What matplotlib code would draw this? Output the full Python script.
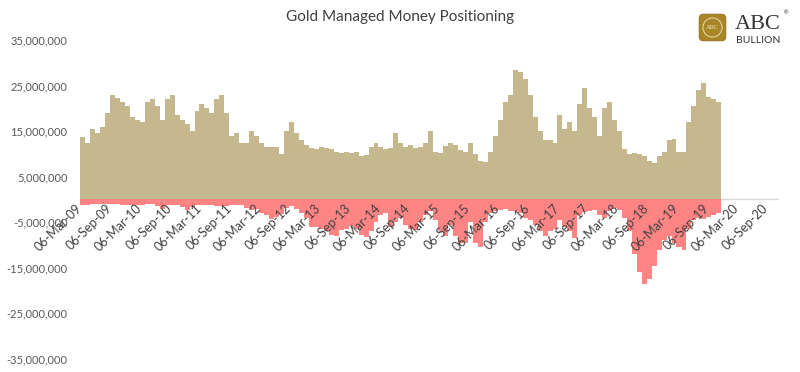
import pandas as pd
import matplotlib
import matplotlib.ticker as ticker
import matplotlib.dates as mdates

matplotlib.use('Agg')
import matplotlib.pyplot as plt
from matplotlib.patches import FancyBboxPatch, Circle

plt.rcParams['font.family'] = ['Lato', 'DejaVu Sans']

# monthly readings in millions
start_date = '2009-03-06'
long_positions = [
    13.7, 12.5, 15.5, 14.5, 16.0, 19.0, 23.0, 22.3, 21.5, 20.5, 18.0, 17.5,
    17.0, 21.5, 22.0, 20.5, 17.5, 22.0, 23.0, 18.5, 17.5, 16.5, 15.0, 19.5,
    21.0, 20.0, 19.0, 22.0, 23.0, 19.0, 14.0, 14.5, 12.5, 12.5, 15.0, 14.0,
    12.5, 11.5, 11.5, 11.5, 10.0, 15.0, 17.0, 14.5, 13.0, 12.0, 11.3, 11.0,
    11.5, 11.2, 11.0, 10.5, 10.3, 10.5, 10.3, 10.5, 9.5, 9.8, 11.5, 12.5,
    11.5, 11.0, 11.2, 14.5, 12.3, 11.5, 12.0, 11.3, 11.5, 12.5, 15.0, 10.5,
    10.3, 11.8, 12.3, 12.0, 10.8, 10.5, 12.5, 10.0, 8.5, 8.3, 10.5, 14.0,
    17.5, 21.5, 23.0, 28.5, 28.0, 26.5, 23.0, 18.0, 15.0, 13.0, 13.0, 12.5,
    18.5, 15.5, 17.0, 15.0, 21.0, 24.5, 20.0, 18.0, 14.0, 20.0, 21.5, 17.5,
    15.0, 11.0, 10.0, 10.3, 10.0, 9.6, 8.5, 8.0, 9.5, 10.5, 13.0, 13.3,
    10.5, 10.5, 17.0, 20.5, 24.0, 25.5, 22.5, 22.0, 21.5,
]
short_positions = [
    -1.3, -1.3, -1.0, -1.0, -1.0, -1.0, -1.0, -1.0, -1.2, -1.2, -1.2, -1.2,
    -1.2, -1.0, -1.0, -1.5, -2.0, -1.2, -1.2, -1.2, -1.7, -2.4, -1.7, -1.3,
    -1.3, -1.3, -1.3, -1.5, -1.5, -1.5, -1.3, -1.3, -1.3, -1.8, -2.2, -2.0,
    -3.0, -3.5, -4.3, -3.8, -3.2, -1.8, -1.5, -2.0, -3.0, -4.0, -6.0, -6.0,
    -6.5, -7.0, -7.8, -8.0, -6.8, -6.5, -5.8, -6.5, -7.8, -8.2, -7.0, -5.0,
    -3.5, -3.0, -6.0, -5.0, -4.0, -5.5, -6.5, -6.8, -5.0, -3.5, -2.5, -4.5,
    -7.0, -8.0, -5.5, -8.0, -9.5, -9.5, -5.0, -9.5, -10.5, -5.0, -3.0, -2.5,
    -2.2, -2.0, -2.5, -2.5, -3.0, -4.0, -4.5, -5.5, -7.0, -8.0, -7.0, -6.5,
    -4.5, -6.0, -7.0, -8.5, -3.5, -2.8, -2.5, -2.2, -3.5, -4.0, -2.5, -1.8,
    -2.2, -4.0, -7.0, -12.0, -16.0, -18.5, -17.5, -14.5, -11.0, -9.0, -8.0, -9.5,
    -10.5, -11.0, -6.5, -4.5, -4.0, -4.2, -3.8, -3.3, -3.0,
]
tick_start = '2009-03-06'
tick_end = '2020-09-06'

dates = pd.date_range(start_date, periods=len(long_positions) + 1, freq=pd.DateOffset(months=1))
edges = mdates.date2num(dates.to_pydatetime())
lefts = edges[:-1]
widths = edges[1:] - edges[:-1]
long_vals = [v * 1e6 for v in long_positions]
short_vals = [v * 1e6 for v in short_positions]

fig = plt.figure(figsize=(8, 3.72), dpi=100)
ax = fig.add_axes([0.1, 0.035, 0.8725, 0.8575])

ax.bar(lefts, long_vals, width=widths, align='edge', color='#c6b88e', linewidth=0)
ax.bar(lefts, short_vals, width=widths, align='edge', color='#ff8585', linewidth=0)

ax.set_ylim(-35e6, 35e6)
ax.set_xlim(mdates.date2num(pd.Timestamp('2009-03-05')), mdates.date2num(pd.Timestamp('2020-11-17')))
ax.yaxis.set_major_locator(ticker.FixedLocator([-35e6, -25e6, -15e6, -5e6, 5e6, 15e6, 25e6, 35e6]))
ax.yaxis.set_major_formatter(ticker.FuncFormatter(lambda v, p: f'{v:,.0f}'))

xticks = pd.date_range(tick_start, tick_end, freq=pd.DateOffset(months=6))
ax.set_xticks(mdates.date2num(xticks.to_pydatetime()))
ax.xaxis.set_major_formatter(mdates.DateFormatter('%d-%b-%y'))

for s in ['top', 'right', 'left']:
    ax.spines[s].set_visible(False)
ax.spines['bottom'].set_position(('data', 0))
ax.spines['bottom'].set_color('#d9d9d9')
ax.spines['bottom'].set_linewidth(1.0)
ax.spines['bottom'].set_zorder(0)

ax.tick_params(axis='y', length=0, pad=9, labelsize=8, labelcolor='#595959')
ax.tick_params(axis='x', length=0, pad=5, labelsize=9, labelcolor='#404040')
for lab in ax.get_xticklabels():
    lab.set_rotation(45)
    lab.set_ha('right')
    lab.set_va('center')
    lab.set_rotation_mode('anchor')

fig.text(0.5, 1 - 17 / 372, 'Gold Managed Money Positioning', ha='center', va='center',
         fontsize=11, color='#404040')

# logo
lax = fig.add_axes([698 / 800, 1 - 42 / 372, 29 / 800, 29 / 372])
lax.set_xlim(0, 1)
lax.set_ylim(0, 1)
lax.axis('off')
lax.add_patch(FancyBboxPatch((0.04, 0.04), 0.92, 0.92, boxstyle='round,pad=0,rounding_size=0.15',
                             facecolor='#a88628', edgecolor='#8c6d1c', linewidth=0.6))
lax.add_patch(Circle((0.5, 0.5), 0.33, facecolor='none', edgecolor='#ecdcaa', linewidth=0.7))
lax.text(0.5, 0.5, 'ABC', ha='center', va='center', fontsize=4.5, color='#f4e8c4',
         family=['Liberation Serif', 'DejaVu Serif'])
fig.text(758 / 800, 1 - 29 / 372, 'ABC', ha='center', va='baseline', fontsize=16, color='#333333',
         family=['Liberation Serif', 'DejaVu Serif'])
fig.text(786 / 800, 1 - 13 / 372, '®', ha='center', va='center', fontsize=4, color='#333333')
fig.text(758 / 800, 1 - 43 / 372, 'BULLION', ha='center', va='baseline', fontsize=7.5, color='#333333')

plt.savefig('out.png', dpi=100)
plt.close()
